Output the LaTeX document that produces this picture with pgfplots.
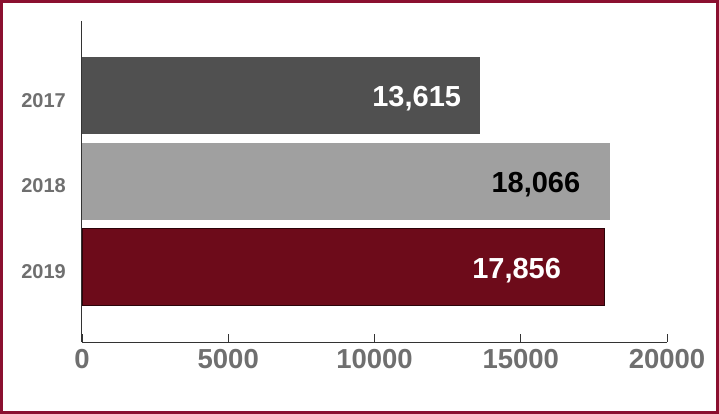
\documentclass[border=0pt]{standalone}
\usepackage{fontspec}
\setmainfont{Liberation Sans}
\usepackage{pgfplots}
\pgfplotsset{compat=1.18}
\definecolor{frame}{HTML}{8B1030}
\definecolor{bara}{HTML}{505050}
\definecolor{barb}{HTML}{A0A0A0}
\definecolor{barc}{HTML}{6D0B1A}
\definecolor{ticklab}{HTML}{6F6F6F}
\begin{document}
\begin{tikzpicture}
\useasboundingbox (-82pt,-72pt) rectangle (637pt,342pt);
\draw[frame, line width=3pt] (-80.5pt,-70.5pt) rectangle (635.5pt,340.5pt);
\begin{axis}[
  at={(0pt,0pt)}, anchor=south west,
  width=585pt, height=321pt, scale only axis,
  xmin=0, xmax=20000, ymin=-0.87, ymax=2.875, y dir=reverse,
  axis x line*=bottom, axis y line*=left,
  xtick={0,5000,10000,15000,20000},
  ytick={0,1,2}, yticklabels={2017,2018,2019},
  tick align=inside, major tick length=8pt,
  ytick style={draw=none},
  xtick style={draw=black!80, line width=0.8pt},
  axis line style={draw=black!80, line width=1pt},
  /pgf/number format/assume math mode=true,
  /pgf/number format/1000 sep={},
  scaled x ticks=false,
  xticklabel style={font=\fontsize{27.5}{30}\selectfont\bfseries, text=ticklab, anchor=base, yshift=-26pt, inner sep=0pt},
  yticklabel style={font=\fontsize{20}{24}\selectfont\bfseries, text=ticklab, anchor=base east, inner sep=0pt, xshift=-8pt, yshift=-11.5pt},
  xbar, bar width=77pt, bar shift=0pt,
  point meta=x,
  nodes near coords={\pgfmathprintnumber[fixed, precision=0, 1000 sep={,}]{\pgfplotspointmeta}},
  every node near coord/.append style={font=\fontsize{29}{32}\selectfont\bfseries, anchor=base east, inner sep=0pt, yshift=-11pt},
  clip=false,
]
\addplot[fill=bara, draw=none, every node near coord/.append style={text=white, xshift=-19pt}] coordinates {(13615,0)};
\addplot[fill=barb, draw=none, every node near coord/.append style={text=black, xshift=-30pt}] coordinates {(18066,1)};
\addplot[fill=barc, draw=black!60!barc, line width=0.6pt, every node near coord/.append style={text=white, xshift=-43pt}] coordinates {(17856,2)};
\end{axis}
\end{tikzpicture}
\end{document}
